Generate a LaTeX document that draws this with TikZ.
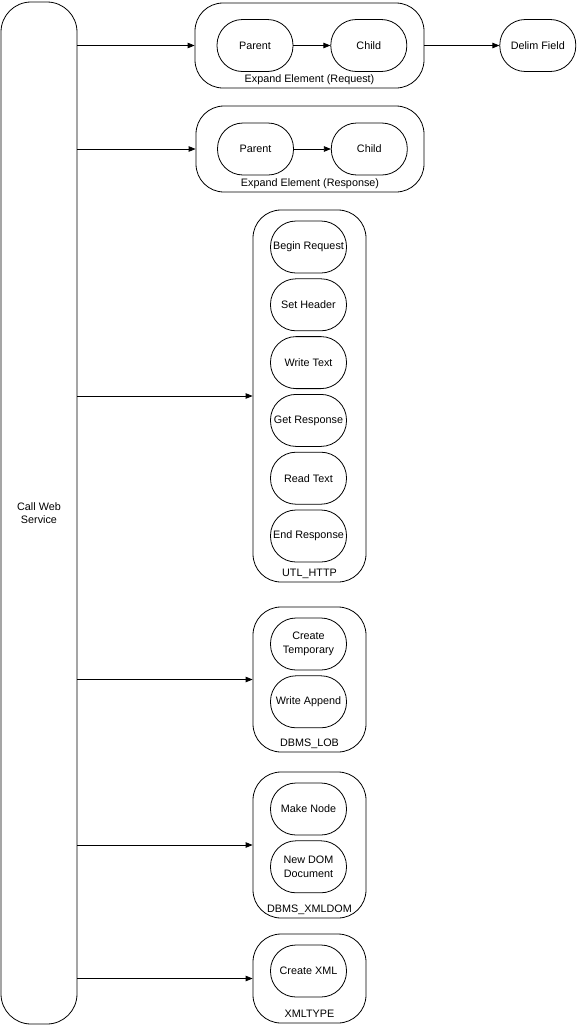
\documentclass[tikz,border=0pt]{standalone}
\usepackage{fontspec}
\setmainfont{Liberation Sans}
\usetikzlibrary{arrows.meta,positioning}

\begin{document}
\begin{tikzpicture}
      [x=1pt, y=-1pt,
      font=\fontsize{10.8}{13.5}\selectfont,
      line width=0.8pt,
      group style/.style={draw, rectangle, rounded corners=28pt, inner sep=0pt},
      step style/.style={draw, rectangle, rounded corners=25.5pt, align=center, minimum width=76pt, minimum height=52pt, inner sep=1pt},
      label style/.style={anchor=base, inner sep=0pt},
      link/.style={-{Triangle[length=7pt,width=5.5pt]}}
      ]

      \useasboundingbox (0,0) rectangle (576,1026);

      % caller
      \node[group style, align=center, rounded corners=30pt, minimum width=76pt, minimum height=1022pt] (cws) at (39,513) {Call Web\\Service};

      % expand element (request)
      \node[group style, minimum width=229pt, minimum height=85pt] (req) at (309.5,45.5) {};
      \node[step style] (reqparent) at (255,45.5) {Parent};
      \node[step style, right=37pt of reqparent] (reqchild) {Child};
      \node[label style] (reqlab) at ([yshift=6pt]req.south) {Expand Element (Request)};
      \node[step style, right=75pt of req] (delim) {Delim Field};

      % expand element (response)
      \node[group style, minimum width=228pt, minimum height=86pt] (resp) at (310,149) {};
      \node[step style] (respparent) at (255.5,149) {Parent};
      \node[step style, right=37pt of respparent] (respchild) {Child};
      \node[label style] (resplab) at ([yshift=6pt]resp.south) {Expand Element (Response)};

      % utl_http
      \node[group style, minimum width=113pt, minimum height=372pt] (http) at (309.5,396) {};
      \node[step style] (hbegin) at (308.5,247) {Begin Request};
      \node[step style, below=5pt of hbegin] (hheader) {Set Header};
      \node[step style, below=5pt of hheader] (hwrite) {Write Text};
      \node[step style, below=5pt of hwrite] (hget) {Get Response};
      \node[step style, below=5pt of hget] (hread) {Read Text};
      \node[step style, below=5pt of hread] (hend) {End Response};
      \node[label style] (httplab) at ([yshift=6pt]http.south) {UTL\_HTTP};

      % dbms_lob
      \node[group style, minimum width=113pt, minimum height=145pt] (lob) at (309.5,679.5) {};
      \node[step style] (ltemp) at (308.5,644) {Create\\Temporary};
      \node[step style, below=5pt of ltemp] (lappend) {Write Append};
      \node[label style] (loblab) at ([yshift=6pt]lob.south) {DBMS\_LOB};

      % dbms_xmldom
      \node[group style, minimum width=113pt, minimum height=146pt] (dom) at (309.5,845) {};
      \node[step style] (dmake) at (308.5,809) {Make Node};
      \node[step style, below=5pt of dmake] (dnew) {New DOM\\Document};
      \node[label style] (domlab) at ([yshift=6pt]dom.south) {DBMS\_XMLDOM};

      % xmltype
      \node[group style, minimum width=113pt, minimum height=89pt] (xtype) at (309.5,978.5) {};
      \node[step style] (xcreate) at (308.5,971) {Create XML};
      \node[label style] (xtypelab) at ([yshift=6pt]xtype.south) {XMLTYPE};

      % connectors
      \draw[link] (cws.east |- req.west) -- (req.west);
      \draw[link] (cws.east |- resp.west) -- (resp.west);
      \draw[link] (cws.east |- http.west) -- (http.west);
      \draw[link] (cws.east |- lob.west) -- (lob.west);
      \draw[link] (cws.east |- dom.west) -- (dom.west);
      \draw[link] (cws.east |- xtype.west) -- (xtype.west);
      \draw[link] (reqparent) -- (reqchild);
      \draw[link] (respparent) -- (respchild);
      \draw[link] (req) -- (delim);
\end{tikzpicture}
\end{document}
